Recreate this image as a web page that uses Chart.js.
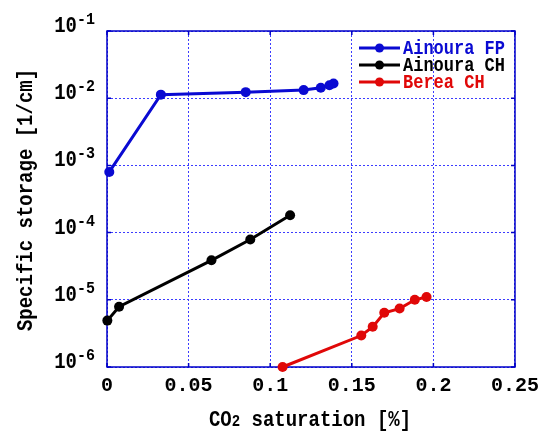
<!DOCTYPE html>
<html>
<head>
<meta charset="utf-8">
<script src="https://cdn.jsdelivr.net/npm/chart.js@4/dist/chart.umd.min.js"></script>
<style>
html,body{margin:0;padding:0;background:#fff;}
#c{display:block;}
</style>
</head>
<body>
<canvas id="c" width="546" height="431"></canvas>
<script>
// ---- data ----
const seriesNames = ['Ainoura FP', 'Ainoura CH', 'Berea CH'];
const fpX = [0.0014, 0.033, 0.085, 0.1205, 0.131, 0.1363, 0.1388];
const fpY = [8.0e-4, 1.13e-2, 1.23e-2, 1.32e-2, 1.43e-2, 1.56e-2, 1.65e-2];
const chX = [0.0002, 0.0074, 0.064, 0.0878, 0.1122];
const chY = [4.9e-6, 7.9e-6, 3.87e-5, 7.9e-5, 1.81e-4];
const bcX = [0.1076, 0.1558, 0.1628, 0.1699, 0.1793, 0.1886, 0.1958];
const bcY = [1.0e-6, 2.94e-6, 3.96e-6, 6.4e-6, 7.4e-6, 1.0e-5, 1.1e-5];
const xTickValues = [0, 0.05, 0.1, 0.15, 0.2, 0.25];
const xTickLabels = ['0', '0.05', '0.1', '0.15', '0.2', '0.25'];
const yTickValues = [1e-6, 1e-5, 1e-4, 1e-3, 1e-2, 1e-1];
const yTickExponents = ['-6', '-5', '-4', '-3', '-2', '-1'];
const xTitle = ['CO', '2', ' saturation [%]'];
const yTitle = 'Specific storage [1/cm]';

const seriesColors = ['#0a0ad2', '#000000', '#e00808'];
const FONT = '"Liberation Mono", "DejaVu Sans Mono", monospace';
const FRAME = '#0000c8';
const GRID = '#3c3cff';
const STRETCH = 1.15;

function pts(xs, ys) { return xs.map((x, i) => ({x: x, y: ys[i]})); }

const datasets = [pts(fpX, fpY), pts(chX, chY), pts(bcX, bcY)].map((d, i) => ({
  label: seriesNames[i],
  data: d,
  borderColor: seriesColors[i],
  backgroundColor: seriesColors[i],
  borderWidth: 3,
  pointRadius: 5,
  pointHoverRadius: 5,
  pointBorderWidth: 0,
  showLine: true,
  clip: 12,
  tension: 0
}));

function tallText(ctx, text, x, y) {
  ctx.save();
  ctx.translate(x, y);
  ctx.scale(1, STRETCH);
  ctx.fillText(text, 0, 0);
  ctx.restore();
}

const decorPlugin = {
  id: 'decor',
  beforeDatasetsDraw(chart) {
    const {ctx, chartArea: a, scales} = chart;
    ctx.save();
    ctx.strokeStyle = FRAME;
    ctx.lineWidth = 1.5;
    ctx.setLineDash([]);
    ctx.strokeRect(a.left, a.top, a.right - a.left, a.bottom - a.top);
    ctx.beginPath();
    const L = 4;
    xTickValues.forEach(v => {
      const x = scales.x.getPixelForValue(v);
      ctx.moveTo(x, a.bottom); ctx.lineTo(x, a.bottom - L);
      ctx.moveTo(x, a.top); ctx.lineTo(x, a.top + L);
    });
    yTickValues.forEach(v => {
      const y = scales.y.getPixelForValue(v);
      ctx.moveTo(a.left, y); ctx.lineTo(a.left + L, y);
      ctx.moveTo(a.right, y); ctx.lineTo(a.right - L, y);
    });
    ctx.stroke();
    ctx.restore();
  },
  afterDraw(chart) {
    const {ctx, chartArea: a, scales} = chart;
    ctx.save();
    ctx.fillStyle = '#000';
    ctx.textBaseline = 'alphabetic';
    // y tick labels with superscript exponents
    yTickValues.forEach((v, i) => {
      const y = scales.y.getPixelForValue(v);
      ctx.font = 'bold 19px ' + FONT;
      ctx.textAlign = 'right';
      tallText(ctx, '10', 77, y + 1);
      ctx.font = 'bold 15px ' + FONT;
      ctx.textAlign = 'left';
      tallText(ctx, yTickExponents[i], 77, y - 7);
    });
    // y title
    ctx.save();
    ctx.translate(32, 200);
    ctx.rotate(-Math.PI / 2);
    ctx.font = 'bold 19px ' + FONT;
    ctx.textAlign = 'center';
    tallText(ctx, yTitle, 0, 0);
    ctx.restore();
    // x title with subscript
    ctx.font = 'bold 19px ' + FONT;
    const w0 = ctx.measureText(xTitle[0]).width;
    const w2 = ctx.measureText(xTitle[2]).width;
    ctx.font = 'bold 14px ' + FONT;
    const w1 = ctx.measureText(xTitle[1]).width;
    let x = 310 - (w0 + w1 + w2) / 2;
    const by = 426;
    ctx.textAlign = 'left';
    ctx.font = 'bold 19px ' + FONT;
    tallText(ctx, xTitle[0], x, by); x += w0;
    ctx.font = 'bold 14px ' + FONT;
    tallText(ctx, xTitle[1], x, by); x += w1;
    ctx.font = 'bold 19px ' + FONT;
    tallText(ctx, xTitle[2], x, by);
    // legend
    chart.data.datasets.forEach((ds, i) => {
      const cy = 48 + i * 17;
      ctx.strokeStyle = ds.borderColor;
      ctx.lineWidth = 3;
      ctx.beginPath();
      ctx.moveTo(359, cy); ctx.lineTo(400, cy);
      ctx.stroke();
      ctx.fillStyle = ds.borderColor;
      ctx.beginPath();
      ctx.arc(379.5, cy, 4.5, 0, Math.PI * 2);
      ctx.fill();
      ctx.font = 'bold 17px ' + FONT;
      ctx.textBaseline = 'alphabetic';
      tallText(ctx, ds.label, 403, cy + 6);
    });
    ctx.restore();
  }
};

new Chart(document.getElementById('c'), {
  type: 'scatter',
  data: {datasets: datasets},
  options: {
    responsive: false,
    devicePixelRatio: 1,
    animation: false,
    layout: {padding: {top: 31, right: 24, left: 0, bottom: 0}},
    plugins: {legend: {display: false}, tooltip: {enabled: false}},
    scales: {
      x: {
        type: 'linear',
        min: 0, max: 0.25,
        afterBuildTicks: s => { s.ticks = xTickValues.map(v => ({value: v})); },
        afterFit: s => { s.height = 64; },
        ticks: {
          callback: (v, i) => xTickLabels[i],
          font: {family: FONT, size: 20, weight: 'bold'},
          color: '#000',
          padding: 7,
          maxRotation: 0,
          autoSkip: false
        },
        grid: {color: GRID, lineWidth: 1, drawTicks: false},
        border: {display: false, dash: [2, 2]}
      },
      y: {
        type: 'logarithmic',
        min: 1e-6, max: 1e-1,
        afterBuildTicks: s => { s.ticks = yTickValues.map(v => ({value: v})); },
        afterFit: s => { s.width = 107; },
        ticks: {display: false},
        grid: {color: GRID, lineWidth: 1, drawTicks: false},
        border: {display: false, dash: [2, 2]}
      }
    }
  },
  plugins: [decorPlugin]
});
</script>
</body>
</html>
